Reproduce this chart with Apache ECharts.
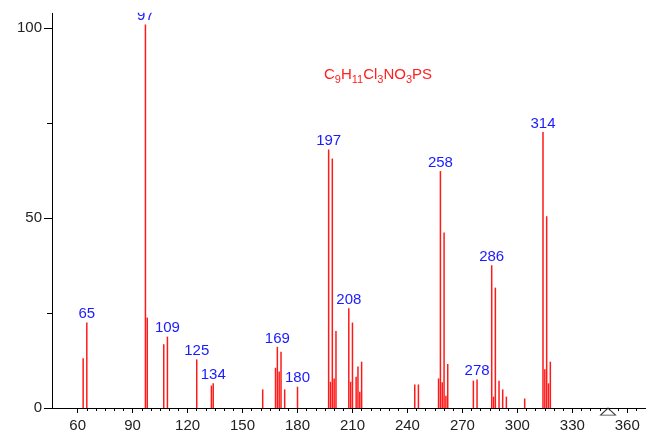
<!DOCTYPE html>
<html>
<head>
<meta charset="utf-8">
<script src="https://cdn.jsdelivr.net/npm/echarts@6/dist/echarts.min.js"></script>
<style>
html,body{margin:0;padding:0;background:#fff;}
#chart{width:648px;height:433px;}
</style>
</head>
<body>
<div id="chart"></div>
<script>
// m/z values and relative intensities
var masses = [63,65,97,98,107,109,125,133,134,161,168,169,170,171,173,180,197,198,199,200,201,208,209,210,212,213,214,215,244,246,257,258,259,260,261,262,276,278,286,287,288,290,292,294,304,314,315,316,317,318];
var intensities = [13.1,22.5,101,23.8,16.8,18.8,12.8,5.9,6.5,4.9,10.6,16.1,9.6,14.8,4.9,5.6,68.1,6.9,65.7,7.8,20.3,26.3,6.9,22.5,8.2,10.9,4.3,12.2,6.2,6.2,7.8,62.4,6.8,46.2,3.2,11.6,7.2,7.5,37.6,3.0,31.7,7.2,4.9,3.0,2.5,72.7,10.2,50.5,6.5,12.2];
var labeledMasses = [65,97,109,125,134,169,180,197,208,258,278,286,314];
var molWeightMarker = [349.5];
var xMajorTicks = [60,90,120,150,180,210,240,270,300,330,360];
var xMinorTicks = [];
for (var t = 60; t <= 365; t += 5) xMinorTicks.push(t);
var yMajorTicks = [0,50,100];
var yMinorTicks = [25,75];
var formula = '{n|C}{s|9}{n|H}{s|11}{n|Cl}{s|3}{n|NO}{s|3}{n|PS}';

var FONT = 'Liberation Sans';
var X_MIN = 46, X_MAX = 370, Y_MIN = 0, Y_MAX = 104;

var barData = masses.map(function(m, i){
  var d = {value: [m, intensities[i]]};
  if (labeledMasses.indexOf(m) >= 0) {
    d.label = {show: true, formatter: String(m)};
  }
  return d;
});

var chart = echarts.init(document.getElementById('chart'), null, {renderer: 'canvas'});
chart.setOption({
  animation: false,
  backgroundColor: '#fff',
  title: {
    text: formula,
    left: 324, top: 67, padding: 0,
    textStyle: {
      fontWeight: 'normal',
      rich: {
        n: {fontSize: 15, fontWeight: 'normal', fontFamily: FONT, color: '#ff2020', verticalAlign: 'top', lineHeight: 15},
        s: {fontSize: 11, fontWeight: 'normal', fontFamily: FONT, color: '#ff2020', verticalAlign: 'top', lineHeight: 11, padding: [7,0,0,0]}
      }
    }
  },
  grid: {left: 52, right: 2.4, top: 13.1, bottom: 24.5, containLabel: false},
  xAxis: [{
    type: 'value', min: X_MIN, max: X_MAX, position: 'bottom',
    axisLine: {show: true, onZero: false, lineStyle: {color: '#000', width: 1}},
    axisTick: {show: true, length: 5, customValues: xMajorTicks, lineStyle: {color: '#000'}},
    axisLabel: {show: true, customValues: xMajorTicks, margin: 10, fontSize: 15, fontFamily: FONT, color: '#222'},
    splitLine: {show: false}
  }, {
    type: 'value', min: X_MIN, max: X_MAX, position: 'bottom',
    axisLine: {show: false},
    axisTick: {show: true, length: 3, customValues: xMinorTicks, lineStyle: {color: '#000'}},
    axisLabel: {show: false},
    splitLine: {show: false}
  }],
  yAxis: [{
    type: 'value', min: Y_MIN, max: Y_MAX, position: 'left',
    axisLine: {show: true, onZero: false, lineStyle: {color: '#000', width: 1}},
    axisTick: {show: true, length: 8, customValues: yMajorTicks, lineStyle: {color: '#000'}},
    axisLabel: {show: true, customValues: yMajorTicks, margin: 10, fontSize: 15, fontFamily: FONT, color: '#222'},
    splitLine: {show: false}
  }, {
    type: 'value', min: Y_MIN, max: Y_MAX, position: 'left',
    axisLine: {show: false},
    axisTick: {show: true, length: 5, customValues: yMinorTicks, lineStyle: {color: '#000'}},
    axisLabel: {show: false},
    splitLine: {show: false}
  }],
  series: [{
    type: 'bar',
    xAxisIndex: 0, yAxisIndex: 0,
    data: barData,
    barWidth: 1.5,
    barGap: '-100%',
    itemStyle: {color: '#ff1a1a'},
    label: {show: false, position: 'top', distance: 1, fontSize: 15, fontFamily: FONT, color: '#1a1aff'},
    emphasis: {disabled: true},
    clip: false
  }, {
    type: 'scatter',
    xAxisIndex: 0, yAxisIndex: 0,
    data: molWeightMarker.map(function(v){ return [v, 0]; }),
    symbol: 'triangle',
    symbolSize: [15, 7],
    symbolOffset: [0, 3.6],
    itemStyle: {color: '#fff', borderColor: '#000', borderWidth: 1},
    emphasis: {disabled: true},
    clip: false,
    z: 5
  }],
  graphic: [{
    type: 'rect', z: 100,
    shape: {x: 0, y: 0, width: 648, height: 12.7},
    style: {fill: '#fff'},
    silent: true
  }]
});
</script>
</body>
</html>
